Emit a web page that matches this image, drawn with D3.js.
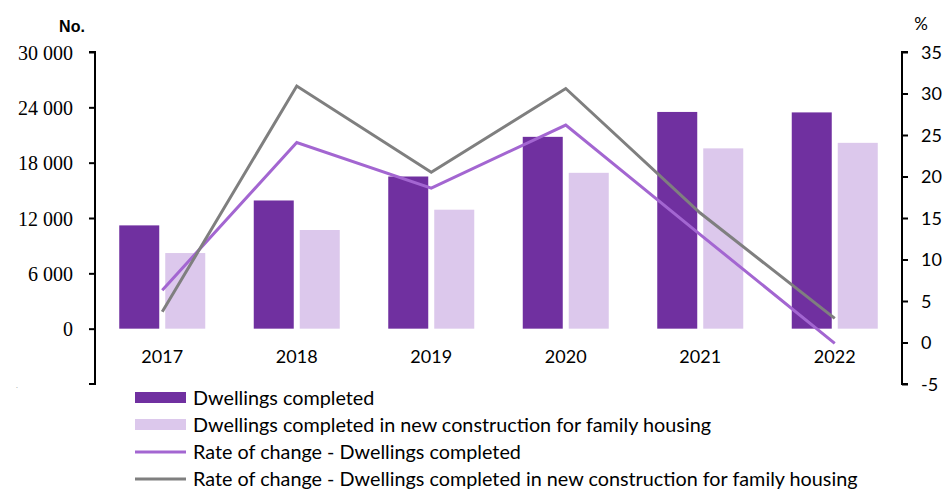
<!DOCTYPE html>
<html>
<head>
    <meta charset="utf-8">
    <title></title>
    <style>
        body { margin: 0; background: #fff; }
    </style>
</head>
<body>
<div id="container"></div>

<script src="https://d3js.org/d3.v7.min.js" type="text/javascript"></script>
<script type="text/javascript">
    const years = ['2017', '2018', '2019', '2020', '2021', '2022'];
    const dwellings = [11200, 13900, 16500, 20800, 23500, 23450];
    const familyDwellings = [8200, 10700, 12900, 16900, 19550, 20150];
    const rateDwellings = [6.3, 24.1, 18.6, 26.2, 13.0, -0.1];
    const rateFamily = [3.7, 30.9, 20.5, 30.6, 15.6, 2.9];
    const leftTicks = [0, 6000, 12000, 18000, 24000, 30000];
    const rightTicks = [-5, 0, 5, 10, 15, 20, 25, 30, 35];
    const legendLabels = [
        'Dwellings completed',
        'Dwellings completed in new construction for family housing',
        'Rate of change - Dwellings completed',
        'Rate of change - Dwellings completed in new construction for family housing'
    ];

    let w = 944;
    let h = 489;
    const svg = d3.select('#container')
        .append('svg')
        .attr('width', w)
        .attr('height', h);

    const margin = {left: 95, right: 902, top: 52, bottom: 384};
    const colors = {dark: '#7030a0', light: '#dcc8ec', purple: '#a366d1', gray: '#7f7f7f'};

    let x = d3.scaleBand().domain(years).range([margin.left, margin.right]);
    let yL = d3.scaleLinear().domain([-6000, 30000]).range([margin.bottom, margin.top]);
    let yR = d3.scaleLinear().domain([-5, 35]).range([margin.bottom, margin.top]);

    const barW = 40;
    const gap = 6;

    // bars
    svg.append('g').selectAll('rect')
        .data(dwellings)
        .join('rect')
        .attr('x', (d, i) => x(years[i]) + x.bandwidth()/2 - gap/2 - barW)
        .attr('y', d => yL(d))
        .attr('width', barW)
        .attr('height', d => yL(0) - yL(d))
        .style('fill', colors.dark);

    svg.append('g').selectAll('rect')
        .data(familyDwellings)
        .join('rect')
        .attr('x', (d, i) => x(years[i]) + x.bandwidth()/2 + gap/2)
        .attr('y', d => yL(d))
        .attr('width', barW)
        .attr('height', d => yL(0) - yL(d))
        .style('fill', colors.light);

    // lines
    const line = d3.line()
        .x((d, i) => x(years[i]) + x.bandwidth()/2)
        .y(d => yR(d));

    svg.append('path')
        .datum(rateDwellings)
        .attr('d', line)
        .style('fill', 'none')
        .style('stroke', colors.purple)
        .style('stroke-width', 3);

    svg.append('path')
        .datum(rateFamily)
        .attr('d', line)
        .style('fill', 'none')
        .style('stroke', colors.gray)
        .style('stroke-width', 3);

    // left axis
    let axisL = d3.axisLeft(yL).tickValues(leftTicks).tickSize(6).tickSizeOuter(6)
        .tickFormat(d => d3.format(',')(d).replace(',', ' '));
    const gL = svg.append('g')
        .attr('transform', `translate(${margin.left}, 0)`)
        .call(axisL);
    gL.select('.domain').attr('stroke', '#000').attr('stroke-width', 2)
        .attr('d', `M-6,${margin.top}H0V${margin.bottom}H-6`);
    gL.selectAll('.tick line').attr('stroke', '#000').attr('stroke-width', 2);
    gL.selectAll('.tick text')
        .attr('x', -22)
        .attr('dy', '0.35em')
        .style('font-family', '"Liberation Serif", serif')
        .style('font-size', '20px')
        .style('fill', '#000');

    // right axis
    let axisR = d3.axisRight(yR).tickValues(rightTicks).tickSize(6).tickSizeOuter(6)
        .tickFormat(d => String(d));
    const gR = svg.append('g')
        .attr('transform', `translate(${margin.right}, 0)`)
        .call(axisR);
    gR.select('.domain').attr('stroke', '#000').attr('stroke-width', 2)
        .attr('d', `M6,${margin.top}H0V${margin.bottom}H6`);
    gR.selectAll('.tick line').attr('stroke', '#000').attr('stroke-width', 2);
    gR.selectAll('.tick text')
        .attr('x', 19)
        .attr('dy', '0.35em')
        .style('font-family', 'Lato, sans-serif')
        .style('font-size', '18px')
        .style('fill', '#000');

    // category labels
    svg.append('g').selectAll('text')
        .data(years)
        .join('text')
        .attr('x', d => x(d) + x.bandwidth()/2)
        .attr('y', 363)
        .attr('text-anchor', 'middle')
        .style('font-family', 'Lato, sans-serif')
        .style('font-size', '18px')
        .text(d => d);

    // units
    svg.append('text')
        .attr('x', 72).attr('y', 32)
        .attr('text-anchor', 'middle')
        .style('font-family', '"Liberation Sans", Arial, sans-serif')
        .style('font-size', '16px')
        .style('font-weight', 'bold')
        .text('No.');

    svg.append('text')
        .attr('x', 921).attr('y', 30)
        .attr('text-anchor', 'middle')
        .style('font-family', 'Lato, sans-serif')
        .style('font-size', '17px')
        .text('%');

    svg.append('text')
        .attr('x', 16).attr('y', 388)
        .style('font-family', 'Lato, sans-serif')
        .style('font-size', '8px')
        .style('fill', '#aaa')
        .text('.');

    // legend
    const legend = svg.append('g').attr('transform', 'translate(135, 398)');
    const rowH = 27;
    legendLabels.forEach((d, i) => {
        const row = legend.append('g').attr('transform', `translate(0, ${i*rowH})`);
        if (i < 2) {
            row.append('rect')
                .attr('x', 0).attr('y', -6)
                .attr('width', 51).attr('height', 11)
                .style('fill', i === 0 ? colors.dark : colors.light);
        } else {
            row.append('line')
                .attr('x1', 0).attr('x2', 51)
                .attr('y1', 0).attr('y2', 0)
                .style('stroke', i === 2 ? colors.purple : colors.gray)
                .style('stroke-width', 3);
        }
        row.append('text')
            .attr('x', 58)
            .attr('y', 0)
            .attr('dy', '0.35em')
            .style('font-family', 'Lato, sans-serif')
            .style('font-size', '19.8px')
            .text(d);
    });
</script>

</body>
</html>
